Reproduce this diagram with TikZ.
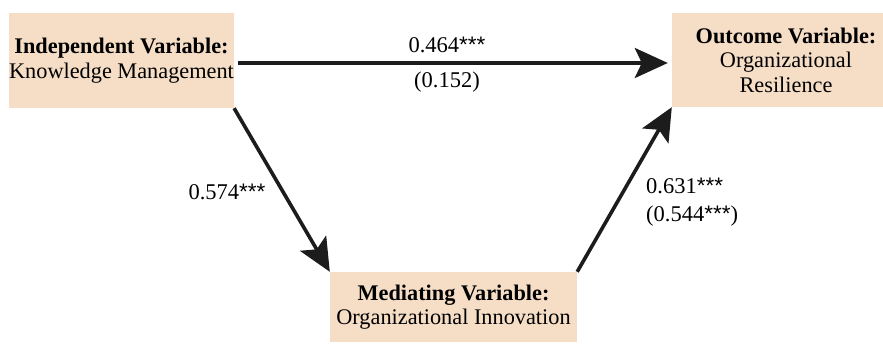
\documentclass[tikz,border=0pt]{standalone}
\usepackage{fontspec}
\setmainfont{Liberation Serif}
\newfontfamily\starfont{Liberation Sans}
\usetikzlibrary{arrows.meta}
\definecolor{boxfill}{RGB}{245,221,198}
\definecolor{arrowcol}{RGB}{28,28,28}
\newcommand{\stars}{{\starfont***}}
\tikzset{
  varbox/.style={fill=boxfill, draw=none, inner sep=0pt, align=center,
    font=\fontsize{22.3}{24.5}\selectfont},
  pathlabel/.style={inner sep=0pt, font=\fontsize{22.5}{24.5}\selectfont, align=left},
  flow/.style={draw=arrowcol, line width=3.6pt,
    -{Stealth[length=33pt, width=30pt, inset=7pt]}}
}
\begin{document}
\begin{tikzpicture}[x=1pt, y=-1pt]
\clip (0,0) rectangle (883,344);
\fill[white] (0,0) rectangle (883,344);
\node[varbox, minimum width=223pt, minimum height=95pt] (L) at (121.5,60.5)
  {\textbf{Independent Variable:}\\Knowledge Management};
\node[varbox, minimum width=228pt, minimum height=94pt] (R) at (786,60)
  {\textbf{Outcome Variable:}\\Organizational\\Resilience};
\node[varbox, minimum width=247pt, minimum height=70pt] (M) at (453.5,307)
  {\textbf{Mediating Variable:}\\Organizational Innovation};
\draw[flow, shorten <=4pt, shorten >=4pt] ([yshift=-2.5pt]L.east) -- ([yshift=-3pt]R.west);
\draw[flow] (L.south east) -- (M.north west);
\draw[flow] (M.north east) -- (R.south west);
\node[pathlabel] (a) at (447,45) {0.464\stars};
\node[pathlabel] (c) at (447,82) {(0.152)};
\node[pathlabel] (b) at (227,192) {0.574\stars};
\node[pathlabel, anchor=west] (d) at (646,186) {0.631\stars};
\node[pathlabel, anchor=west] (e) at (646,216) {(0.544\stars)};
\end{tikzpicture}
\end{document}
